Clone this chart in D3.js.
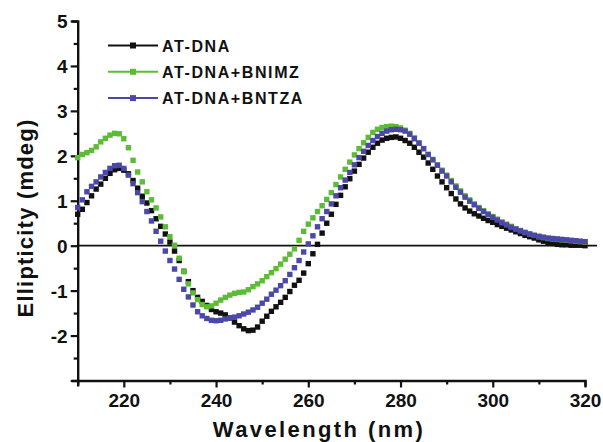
<!DOCTYPE html>
<html>
<head>
<meta charset="utf-8">
<script src="https://cdn.jsdelivr.net/npm/d3@7"></script>
<style>
  html, body { margin: 0; padding: 0; background: #fff; }
  svg { display: block; }
  text { font-family: "Liberation Sans", Arial, sans-serif; font-weight: bold; fill: #111; }
</style>
</head>
<body>
<svg id="chart" width="603" height="442"></svg>
<script>
// CD spectra of AT-DNA alone and with the two ligands, sampled every 1 nm
const wavelengths = d3.range(210, 321, 1);

const atDna = [
  0.70, 0.81, 0.96, 1.11, 1.26, 1.37, 1.50, 1.61, 1.69, 1.72,   // 210-219
  1.68, 1.60, 1.45, 1.28, 1.10, 0.95, 0.78, 0.60, 0.43, 0.26,   // 220-229
  0.08, -0.12, -0.33, -0.57, -0.80, -1.00, -1.15, -1.24, -1.33, -1.42, // 230-239
  -1.47, -1.50, -1.54, -1.61, -1.70, -1.78, -1.85, -1.89, -1.88, -1.81, // 240-249
  -1.68, -1.57, -1.46, -1.36, -1.26, -1.15, -1.02, -0.88, -0.77, -0.61, // 250-259
  -0.40, -0.18, 0.03, 0.28, 0.50, 0.70, 0.92, 1.12, 1.31, 1.49,  // 260-269
  1.66, 1.81, 1.95, 2.08, 2.19, 2.28, 2.35, 2.39, 2.41, 2.42,   // 270-279
  2.39, 2.34, 2.28, 2.19, 2.08, 1.97, 1.84, 1.70, 1.55, 1.42,   // 280-289
  1.29, 1.16, 1.04, 0.93, 0.84, 0.77, 0.71, 0.66, 0.61, 0.56,   // 290-299
  0.52, 0.47, 0.43, 0.39, 0.35, 0.31, 0.27, 0.23, 0.20, 0.17,   // 300-309
  0.13, 0.10, 0.07, 0.05, 0.03, 0.02, 0.02, 0.01, 0.01, 0.01,   // 310-319
  0.00                                                          // 320
];

const withBnimz = [
  1.96, 2.03, 2.07, 2.12, 2.20, 2.31, 2.39, 2.46, 2.50, 2.49,   // 210-219
  2.38, 2.18, 1.90, 1.64, 1.42, 1.20, 1.02, 0.84, 0.64, 0.42,   // 220-229
  0.20, 0.01, -0.28, -0.58, -0.85, -1.05, -1.20, -1.31, -1.36, -1.34, // 230-239
  -1.28, -1.21, -1.15, -1.10, -1.06, -1.04, -1.03, -0.98, -0.91, -0.85, // 240-249
  -0.78, -0.69, -0.60, -0.51, -0.41, -0.30, -0.19, -0.07, 0.12, 0.32, // 250-259
  0.48, 0.62, 0.76, 0.89, 1.03, 1.18, 1.36, 1.53, 1.70, 1.86,   // 260-269
  2.02, 2.16, 2.29, 2.41, 2.52, 2.59, 2.63, 2.65, 2.66, 2.65,   // 270-279
  2.62, 2.57, 2.50, 2.40, 2.29, 2.16, 2.03, 1.92, 1.80, 1.68,   // 280-289
  1.57, 1.45, 1.33, 1.22, 1.11, 1.02, 0.93, 0.85, 0.78, 0.71,   // 290-299
  0.65, 0.59, 0.53, 0.48, 0.43, 0.38, 0.34, 0.30, 0.26, 0.23,   // 300-309
  0.20, 0.18, 0.16, 0.15, 0.14, 0.13, 0.12, 0.11, 0.10, 0.09,   // 310-319
  0.08                                                          // 320
];

const withBntza = [
  0.85, 1.02, 1.20, 1.32, 1.42, 1.53, 1.63, 1.72, 1.78, 1.79,   // 210-219
  1.72, 1.57, 1.38, 1.18, 0.98, 0.76, 0.55, 0.32, 0.10, -0.12,  // 220-229
  -0.33, -0.52, -0.75, -0.97, -1.14, -1.32, -1.47, -1.56, -1.62, -1.66, // 230-239
  -1.67, -1.66, -1.63, -1.61, -1.59, -1.56, -1.52, -1.48, -1.43, -1.37, // 240-249
  -1.28, -1.19, -1.08, -0.99, -0.89, -0.78, -0.64, -0.49, -0.33, -0.14, // 250-259
  0.04, 0.22, 0.42, 0.60, 0.76, 0.93, 1.11, 1.29, 1.46, 1.63,   // 260-269
  1.80, 1.96, 2.10, 2.23, 2.34, 2.43, 2.50, 2.55, 2.58, 2.59,   // 270-279
  2.58, 2.55, 2.48, 2.38, 2.28, 2.16, 2.03, 1.91, 1.79, 1.66,   // 280-289
  1.55, 1.42, 1.30, 1.19, 1.08, 0.99, 0.91, 0.83, 0.76, 0.69,   // 290-299
  0.63, 0.57, 0.51, 0.46, 0.41, 0.37, 0.33, 0.29, 0.26, 0.23,   // 300-309
  0.21, 0.19, 0.17, 0.16, 0.15, 0.14, 0.13, 0.12, 0.11, 0.10,   // 310-319
  0.09                                                          // 320
];

const seriesNames = ["AT-DNA", "AT-DNA+BNIMZ", "AT-DNA+BNTZA"];
const seriesColors = ["#111111", "#5cbc35", "#4b48a8"];
const seriesValues = [atDna, withBnimz, withBntza];

const xTickValues = d3.range(210, 321, 10);
const xTickLabels = [220, 240, 260, 280, 300, 320];
const yTickValues = d3.range(-3, 5.01, 0.5);
const yTickLabels = [-2, -1, 0, 1, 2, 3, 4, 5];
const baselineExtent = [210, 322.6];

const svg = d3.select("#chart");

const x = d3.scaleLinear().domain([210, 320]).range([77.7, 585]);
const y = d3.scaleLinear().domain([-3, 5]).range([380.5, 21]);

// axes: majors every 20 nm / 1 mdeg, minors in between, ticks pointing outward
const xAxis = d3.axisBottom(x)
  .tickValues(xTickValues)
  .tickSizeOuter(0)
  .tickSize(6)
  .tickFormat(d => xTickLabels.includes(d) ? d : "");
const gx = svg.append("g").attr("transform", `translate(0,${y(-3)})`).call(xAxis);
gx.selectAll(".tick line")
  .attr("y2", d => xTickLabels.includes(d) ? 7 : 4);

const yAxis = d3.axisLeft(y)
  .tickValues(yTickValues)
  .tickSizeOuter(0)
  .tickSize(6)
  .tickFormat(d => yTickLabels.includes(d) ? d : "");
const gy = svg.append("g").attr("transform", `translate(${x(210)},0)`).call(yAxis);
gy.selectAll(".tick line")
  .attr("x2", d => Number.isInteger(d) ? -7 : -4);

[gx, gy].forEach(g => {
  g.select(".domain").attr("stroke", "#111").attr("stroke-width", 2.4);
  g.selectAll(".tick line").attr("stroke", "#111").attr("stroke-width", 2.2);
  g.selectAll(".tick text")
    .attr("fill", "#111")
    .style("font-size", "19px")
    .style("font-weight", "bold")
    .style("font-family", '"Liberation Sans", Arial, sans-serif');
});
gx.selectAll(".tick text").attr("dy", "0.95em").attr("y", 8);
gy.selectAll(".tick text").attr("x", -10).attr("dy", "0.35em");

// zero baseline
svg.append("line")
  .attr("x1", x(baselineExtent[0])).attr("x2", x(baselineExtent[1]))
  .attr("y1", y(0)).attr("y2", y(0))
  .attr("stroke", "#111").attr("stroke-width", 1.8);

// spectra as square markers
const markerSize = 5.4;
seriesValues.forEach((vals, i) => {
  svg.append("g")
    .selectAll("rect")
    .data(wavelengths.map((w, j) => [w, vals[j]]))
    .join("rect")
    .attr("x", d => x(d[0]) - markerSize / 2)
    .attr("y", d => y(d[1]) - markerSize / 2)
    .attr("width", markerSize)
    .attr("height", markerSize)
    .attr("fill", seriesColors[i]);
});

// legend
const legend = svg.append("g").attr("transform", "translate(108,45.5)");
seriesNames.forEach((name, i) => {
  const row = legend.append("g").attr("transform", `translate(0,${i * 26.3})`);
  row.append("line")
    .attr("x1", 0).attr("x2", 50).attr("y1", 0).attr("y2", 0)
    .attr("stroke", seriesColors[i]).attr("stroke-width", 2);
  row.append("rect")
    .attr("x", 22).attr("y", -3).attr("width", 6).attr("height", 6)
    .attr("fill", seriesColors[i]);
  row.append("text")
    .attr("x", 54).attr("y", 6)
    .style("font-size", "16px")
    .style("letter-spacing", "1.6px")
    .text(name);
});

// axis titles
svg.append("text")
  .attr("x", 319).attr("y", 437)
  .attr("text-anchor", "middle")
  .style("font-size", "22px")
  .style("letter-spacing", "2.4px")
  .text("Wavelength (nm)");

svg.append("text")
  .attr("transform", "translate(33,218) rotate(-90)")
  .attr("text-anchor", "middle")
  .style("font-size", "22px")
  .style("letter-spacing", "1.2px")
  .text("Ellipticity (mdeg)");
</script>
</body>
</html>
